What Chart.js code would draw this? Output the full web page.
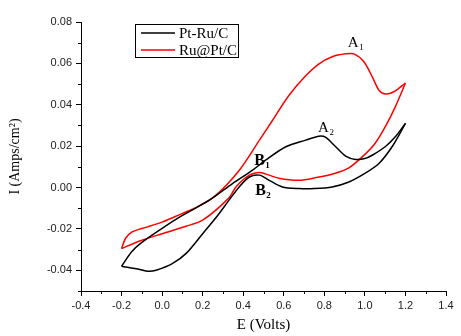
<!DOCTYPE html>
<html>
<head>
<meta charset="utf-8">
<script src="https://cdn.jsdelivr.net/npm/chart.js@4.4.1/dist/chart.umd.min.js"></script>
<style>
  html, body { margin: 0; padding: 0; background: #fff; }
</style>
</head>
<body>
<canvas id="cv" width="461" height="336"></canvas>
<script>
// series names
const seriesNames = ['Pt-Ru/C', 'Ru@Pt/C'];

// Pt-Ru/C, anodic sweep (-0.2 -> 1.2 V)
const ptRuFwdE = [-0.2, -0.15, -0.1, 0.0, 0.1, 0.233, 0.347, 0.446, 0.51, 0.61, 0.708, 0.774, 0.807, 0.856, 0.905, 0.954, 1.0, 1.036, 1.1, 1.15, 1.2];
const ptRuFwdI = [-0.038, -0.031, -0.0265, -0.0197, -0.0135, -0.0061, 0.0019, 0.0084, 0.0132, 0.0197, 0.0229, 0.0248, 0.0242, 0.0197, 0.0152, 0.0136, 0.014, 0.0156, 0.0197, 0.0245, 0.031];
// Pt-Ru/C, cathodic sweep (1.2 -> -0.2 V)
const ptRuRevE = [1.2, 1.134, 1.069, 1.0, 0.921, 0.839, 0.75, 0.675, 0.593, 0.528, 0.48, 0.43, 0.38, 0.33, 0.27, 0.2, 0.12, 0.05, -0.03, -0.07, -0.11, -0.2];
const ptRuRevI = [0.031, 0.0197, 0.0116, 0.0068, 0.0027, 0.0003, -0.0005, -0.0005, 0.0003, 0.0035, 0.006, 0.0051, 0.0003, -0.0061, -0.014, -0.0223, -0.0317, -0.0368, -0.040, -0.0405, -0.0396, -0.038];

// Ru@Pt/C, anodic sweep
const ruPtFwdE = [-0.2, -0.18, -0.15, -0.1, 0.0, 0.1, 0.16, 0.257, 0.381, 0.48, 0.544, 0.626, 0.708, 0.774, 0.839, 0.905, 0.946, 0.995, 1.036, 1.069, 1.1, 1.143, 1.2];
const ruPtFwdI = [-0.0295, -0.0245, -0.0215, -0.0198, -0.0167, -0.0125, -0.010, -0.0044, 0.0084, 0.0229, 0.0324, 0.0446, 0.054, 0.0598, 0.0632, 0.0646, 0.0646, 0.0608, 0.0536, 0.0471, 0.0452, 0.0463, 0.0505];
// Ru@Pt/C, cathodic sweep
const ruPtRevE = [1.2, 1.15, 1.1, 1.05, 0.987, 0.921, 0.85, 0.76, 0.675, 0.577, 0.51, 0.48, 0.43, 0.364, 0.33, 0.2, 0.118, 0.0, -0.11, -0.2];
const ruPtRevI = [0.0505, 0.039, 0.0293, 0.0213, 0.0148, 0.0095, 0.0068, 0.0048, 0.0035, 0.0045, 0.0066, 0.0073, 0.006, 0.0003, -0.005, -0.0158, -0.0187, -0.0223, -0.0258, -0.0295];

// axis ticks
const xTicks = [-0.4, -0.2, 0.0, 0.2, 0.4, 0.6, 0.8, 1.0, 1.2, 1.4];
const yTicks = [-0.04, -0.02, 0.0, 0.02, 0.04, 0.06, 0.08];
const xMinor = [-0.3, -0.1, 0.1, 0.3, 0.5, 0.7, 0.9, 1.1, 1.3];
const yMinor = [-0.05, -0.03, -0.01, 0.01, 0.03, 0.05, 0.07];

const toPts = (es, is) => es.map((e, k) => ({ x: e, y: is[k] }));
const colors = ['#000000', '#ff0000'];

function line(label, es, is, color) {
    return {
        label: label,
        data: toPts(es, is),
        borderColor: color,
        borderWidth: 1.5,
        pointRadius: 0,
        tension: 0.3,
        fill: false
    };
}

// minor ticks, since Chart.js only draws the major ones
const minorTicks = {
    id: 'minorTicks',
    afterDraw(chart) {
        const ctx = chart.ctx;
        const xs = chart.scales.x, ys = chart.scales.y;
        const a = chart.chartArea;
        ctx.save();
        ctx.strokeStyle = '#000';
        ctx.lineWidth = 1;
        ctx.beginPath();
        xMinor.forEach(v => {
            const px = Math.round(xs.getPixelForValue(v)) + 0.5;
            ctx.moveTo(px, a.bottom);
            ctx.lineTo(px, a.bottom + 3);
        });
        yMinor.forEach(v => {
            const py = Math.round(ys.getPixelForValue(v)) + 0.5;
            ctx.moveTo(a.left - 3, py);
            ctx.lineTo(a.left, py);
        });
        ctx.stroke();
        ctx.restore();
    }
};

// boxed legend inside the plot
const boxLegend = {
    id: 'boxLegend',
    afterDraw(chart) {
        const ctx = chart.ctx;
        ctx.save();
        ctx.strokeStyle = '#000';
        ctx.lineWidth = 1;
        ctx.strokeRect(135.5, 24.5, 103, 33);
        ctx.font = '15px "Liberation Serif", "Times New Roman", serif';
        ctx.textBaseline = 'middle';
        ctx.fillStyle = '#000';
        seriesNames.forEach((name, k) => {
            const y = 33 + k * 17;
            ctx.strokeStyle = colors[k];
            ctx.lineWidth = 1.5;
            ctx.beginPath();
            ctx.moveTo(141, y);
            ctx.lineTo(175, y);
            ctx.stroke();
            ctx.fillText(name, 179, y + 1);
        });
        ctx.restore();
    }
};

// peak labels A1, A2, B1, B2
const peakLabels = {
    id: 'peakLabels',
    afterDraw(chart, args, opts) {
        const ctx = chart.ctx;
        const xs = chart.scales.x, ys = chart.scales.y;
        ctx.save();
        ctx.fillStyle = '#000';
        ctx.textBaseline = 'alphabetic';
        opts.items.forEach(it => {
            const px = xs.getPixelForValue(it.e);
            const py = ys.getPixelForValue(it.i);
            ctx.font = (it.bold ? 'bold 16px' : '15px') + ' "Liberation Serif", serif';
            ctx.fillText(it.text, px, py);
            const w = ctx.measureText(it.text).width;
            ctx.font = (it.bold ? 'bold 9px' : '9px') + ' "Liberation Serif", serif';
            ctx.fillText(it.sub, px + w + 0.5, py + 3);
        });
        ctx.restore();
    }
};

new Chart(document.getElementById('cv'), {
    type: 'line',
    data: {
        datasets: [
            line(seriesNames[0], ptRuFwdE, ptRuFwdI, colors[0]),
            line(seriesNames[0], ptRuRevE, ptRuRevI, colors[0]),
            line(seriesNames[1], ruPtFwdE, ruPtFwdI, colors[1]),
            line(seriesNames[1], ruPtRevE, ruPtRevI, colors[1])
        ]
    },
    options: {
        responsive: false,
        animation: false,
        layout: { padding: { left: 0, top: 22, right: 15, bottom: 0 } },
        plugins: {
            legend: { display: false },
            tooltip: { enabled: false },
            peakLabels: {
                items: [
                    { text: 'A', sub: '1', e: 0.916, i: 0.0681, bold: false },
                    { text: 'A', sub: '2', e: 0.769, i: 0.0269, bold: false },
                    { text: 'B', sub: '1', e: 0.454, i: 0.0108, bold: true },
                    { text: 'B', sub: '2', e: 0.459, i: -0.0037, bold: true }
                ]
            }
        },
        scales: {
            x: {
                type: 'linear',
                min: -0.4,
                max: 1.4,
                afterBuildTicks: s => { s.ticks = xTicks.map(v => ({ value: v })); },
                afterFit: s => { s.height = 45; },
                grid: { drawOnChartArea: false, drawTicks: true, tickLength: 5, color: '#000' },
                border: { display: true, color: '#000', width: 1 },
                ticks: {
                    padding: 3,
                    color: '#222',
                    font: { family: '"Liberation Sans", Arial, sans-serif', size: 11 },
                    callback: v => v.toFixed(1)
                },
                title: {
                    display: true,
                    text: 'E (Volts)',
                    color: '#000',
                    padding: { top: 0, bottom: 2 },
                    font: { family: '"Liberation Serif", serif', size: 15 }
                }
            },
            y: {
                type: 'linear',
                min: -0.05,
                max: 0.08,
                afterBuildTicks: s => { s.ticks = yTicks.map(v => ({ value: v })); },
                afterFit: s => { s.width = 81; },
                grid: { drawOnChartArea: false, drawTicks: true, tickLength: 5, color: '#000' },
                border: { display: true, color: '#000', width: 1 },
                ticks: {
                    padding: 4,
                    color: '#222',
                    font: { family: '"Liberation Sans", Arial, sans-serif', size: 11 },
                    callback: v => v.toFixed(2)
                },
                title: {
                    display: true,
                    text: 'I (Amps/cm²)',
                    color: '#000',
                    padding: { top: 7, bottom: 0 },
                    font: { family: '"Liberation Serif", serif', size: 14 }
                }
            }
        }
    },
    plugins: [minorTicks, boxLegend, peakLabels]
});
</script>
</body>
</html>
